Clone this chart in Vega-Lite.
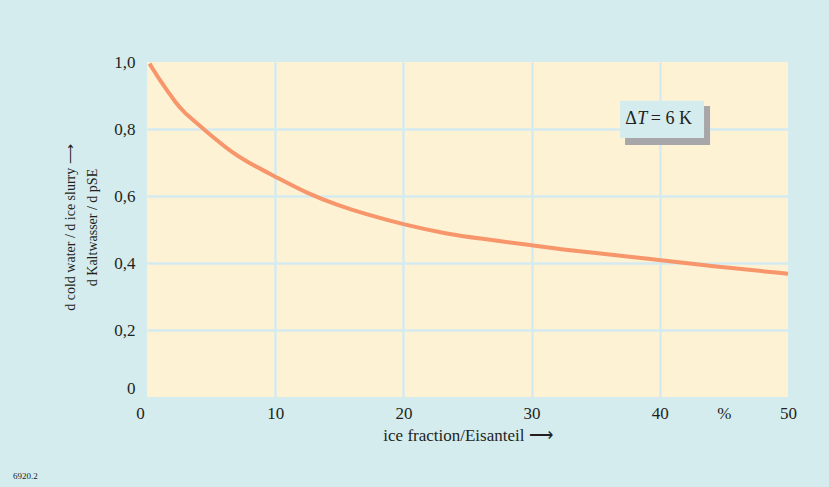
{
  "$schema": "https://vega.github.io/schema/vega-lite/v6.json",
  "width": 641,
  "height": 335,
  "autosize": {"type": "none"},
  "padding": {"left": 147, "top": 62, "right": 41, "bottom": 90},
  "background": "#d5ecee",
  "config": {
    "view": {"fill": "#fdf2d4", "stroke": null},
    "font": "Liberation Serif",
    "axis": {
      "labelFont": "Liberation Serif",
      "titleFont": "Liberation Serif",
      "labelColor": "#231f20",
      "titleColor": "#231f20",
      "labelFontSize": 17,
      "titleFontSize": 17,
      "titleFontWeight": "normal",
      "labelFlush": false,
      "domain": false,
      "ticks": false,
      "gridColor": "#d3ebf0",
      "gridWidth": 2.5
    }
  },
  "title": {
    "text": "6920.2",
    "orient": "bottom",
    "anchor": "start",
    "frame": "group",
    "font": "Liberation Serif",
    "fontSize": 9,
    "fontWeight": "normal",
    "color": "#231f20",
    "dx": -134,
    "offset": 29
  },
  "layer": [
    {
      "data": {"values": [
        {"ice_fraction": 0.2, "ratio": 0.995},
        {"ice_fraction": 1.0, "ratio": 0.946},
        {"ice_fraction": 1.66, "ratio": 0.911},
        {"ice_fraction": 2.18, "ratio": 0.881},
        {"ice_fraction": 2.83, "ratio": 0.852},
        {"ice_fraction": 3.74, "ratio": 0.822},
        {"ice_fraction": 4.66, "ratio": 0.792},
        {"ice_fraction": 5.44, "ratio": 0.767},
        {"ice_fraction": 6.47, "ratio": 0.735},
        {"ice_fraction": 7.78, "ratio": 0.702},
        {"ice_fraction": 10.0, "ratio": 0.658},
        {"ice_fraction": 12.46, "ratio": 0.608},
        {"ice_fraction": 15.05, "ratio": 0.57},
        {"ice_fraction": 16.87, "ratio": 0.548},
        {"ice_fraction": 20.18, "ratio": 0.513},
        {"ice_fraction": 23.38, "ratio": 0.487},
        {"ice_fraction": 25.97, "ratio": 0.473},
        {"ice_fraction": 29.8, "ratio": 0.454},
        {"ice_fraction": 32.2, "ratio": 0.441},
        {"ice_fraction": 35.3, "ratio": 0.429},
        {"ice_fraction": 39.9, "ratio": 0.409},
        {"ice_fraction": 44.4, "ratio": 0.389},
        {"ice_fraction": 50.0, "ratio": 0.368}
      ]},
      "mark": {"type": "line", "color": "#f7956b", "strokeWidth": 4, "interpolate": "basis"},
      "encoding": {
        "x": {
          "field": "ice_fraction",
          "type": "quantitative",
          "scale": {"domain": [0, 50], "nice": false, "zero": false},
          "axis": {
            "values": [0, 10, 20, 30, 40, 45, 50],
            "labelExpr": "datum.value == 45 ? '%' : datum.label",
            "labelPadding": 8,
            "labelOffset": {"condition": {"test": "datum.value == 0", "value": -7}, "value": 0},
            "gridOpacity": {"condition": {"test": "datum.value == 0 || datum.value == 45 || datum.value == 50", "value": 0}, "value": 1},
            "title": "ice fraction/Eisanteil ⟶",
            "titlePadding": 6
          }
        },
        "y": {
          "field": "ratio",
          "type": "quantitative",
          "scale": {"domain": [0, 1], "nice": false},
          "axis": {
            "values": [0, 0.2, 0.4, 0.6, 0.8, 1.0],
            "labelExpr": "datum.value == 0 ? '0' : replace(format(datum.value, '.1f'), '.', ',')",
            "labelPadding": 12,
            "labelOffset": {"condition": {"test": "datum.value == 0", "value": -9}, "value": 0},
            "gridOpacity": {"condition": {"test": "datum.value == 0 || datum.value == 1", "value": 0}, "value": 1},
            "title": ["d cold water / d ice slurry  ⟶", "d Kaltwasser / d pSE"],
            "titleFontSize": 14,
            "titleLineHeight": 22,
            "titlePadding": 14,
            "titleY": 165
          }
        }
      }
    },
    {
      "data": {"values": [{"note": "ΔT = 6 K"}]},
      "mark": {"type": "rect", "fill": "#a7a7a9"},
      "encoding": {
        "x": {"datum": 37.29, "type": "quantitative"},
        "x2": {"datum": 43.92},
        "y": {"datum": 0.869, "type": "quantitative"},
        "y2": {"datum": 0.752}
      }
    },
    {
      "data": {"values": [{"note": "ΔT = 6 K"}]},
      "mark": {"type": "rect", "fill": "#d5ecee"},
      "encoding": {
        "x": {"datum": 36.9, "type": "quantitative"},
        "x2": {"datum": 43.45},
        "y": {"datum": 0.884, "type": "quantitative"},
        "y2": {"datum": 0.773}
      }
    },
    {
      "data": {"values": [{"part": "Δ"}]},
      "mark": {"type": "text", "font": "Liberation Serif", "fontSize": 18, "color": "#231f20", "align": "left", "baseline": "middle"},
      "encoding": {
        "x": {"datum": 37.3, "type": "quantitative"},
        "y": {"datum": 0.83, "type": "quantitative"},
        "text": {"field": "part"}
      }
    },
    {
      "data": {"values": [{"part": "T"}]},
      "mark": {"type": "text", "font": "Liberation Serif", "fontSize": 18, "fontStyle": "italic", "color": "#231f20", "align": "left", "baseline": "middle"},
      "encoding": {
        "x": {"datum": 38.25, "type": "quantitative"},
        "y": {"datum": 0.83, "type": "quantitative"},
        "text": {"field": "part"}
      }
    },
    {
      "data": {"values": [{"part": "= 6 K"}]},
      "mark": {"type": "text", "font": "Liberation Serif", "fontSize": 18, "color": "#231f20", "align": "left", "baseline": "middle"},
      "encoding": {
        "x": {"datum": 39.3, "type": "quantitative"},
        "y": {"datum": 0.83, "type": "quantitative"},
        "text": {"field": "part"}
      }
    }
  ]
}
